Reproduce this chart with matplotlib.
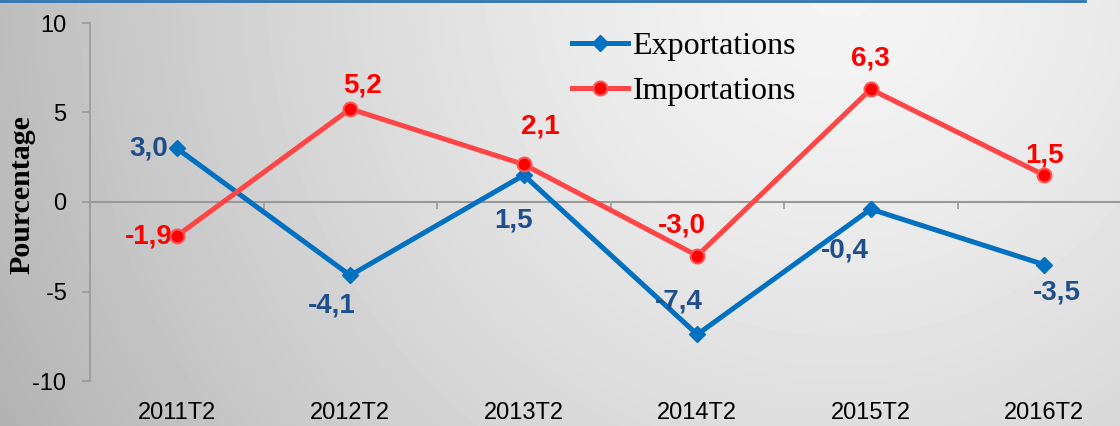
import numpy as np
import matplotlib.pyplot as plt

plt.rcParams['axes.unicode_minus'] = False

# data
periodes = ['2011T2', '2012T2', '2013T2', '2014T2', '2015T2', '2016T2']
exportations = [3.0, -4.1, 1.5, -7.4, -0.4, -3.5]
importations = [-1.9, 5.2, 2.1, -3.0, 6.3, 1.5]

# label offsets (points) for the data labels
off_exp = [(-20, 0), (-13, -22), (-7, -33), (-13, 24), (-19, -30), (9, -20)]
off_imp = [(-20, 0), (9, 17), (12, 27), (-11, 22), (0, 22), (0, 14)]

sans = ['Liberation Sans', 'DejaVu Sans']

W, H = 1120, 426
fig = plt.figure(figsize=(W / 100, H / 100), dpi=100)

# radial gradient background
bg = fig.add_axes([0, 0, 1, 1], zorder=-10)
yy, xx = np.mgrid[0:H, 0:W]
d = np.sqrt((xx - 840.0) ** 2 + (yy + 20.0) ** 2)
v = 0.96 - 0.24 * (d / 900.0) ** 1.4
bg.imshow(np.clip(v, 0, 1), cmap='gray', vmin=0, vmax=1, aspect='auto',
          extent=[0, W, H, 0])
bg.plot([0, 1085], [1, 1], color='#2E75B6', lw=2)
bg.set_xlim(0, W)
bg.set_ylim(H, 0)
bg.axis('off')

ax = fig.add_axes([90 / W, 45 / H, 1041 / W, 358 / H])
ax.patch.set_alpha(0)
x = np.arange(len(periodes))

ax.plot(x, exportations, color='#0070C0', lw=3.6, marker='D', ms=8,
        mfc='#0070C0', mec='#0070C0', label='Exportations', zorder=3)
ax.plot(x, importations, color='#FF4545', lw=3.6, marker='o', ms=10,
        mfc='#FF0000', mec='#FF5555', mew=1.5, label='Importations', zorder=4)

for i, val in enumerate(exportations):
    ax.annotate(f'{val:.1f}'.replace('.', ','), (x[i], val), xytext=off_exp[i],
                textcoords='offset points', ha='center', va='center',
                color='#1F4E8C', fontsize=20, fontweight='bold', family=sans)
for i, val in enumerate(importations):
    ax.annotate(f'{val:.1f}'.replace('.', ','), (x[i], val), xytext=off_imp[i],
                textcoords='offset points', ha='center', va='center',
                color='#FF0000', fontsize=20, fontweight='bold', family=sans)

ax.set_xlim(-0.5, len(periodes) - 0.5)
ax.set_ylim(-10, 10)
ax.set_yticks([-10, -5, 0, 5, 10])
ax.tick_params(axis='y', length=6, width=1.2, color='#999999', pad=11,
               labelsize=17)
for t in ax.get_yticklabels():
    t.set_family(sans)

ax.spines['top'].set_visible(False)
ax.spines['right'].set_visible(False)
ax.spines['left'].set_color('#999999')
ax.spines['left'].set_linewidth(1.2)
ax.spines['bottom'].set_position(('data', 0))
ax.spines['bottom'].set_color('#999999')
ax.spines['bottom'].set_linewidth(1.5)
ax.set_xticks(x)
ax.set_xticklabels([])
ax.tick_params(axis='x', which='major', length=0)
ax.set_xticks(np.arange(len(periodes) + 1) - 0.5, minor=True)
ax.tick_params(axis='x', which='minor', length=5, width=1.2, color='#999999')

for i, p in enumerate(periodes):
    ax.text(x[i], -0.089, p, transform=ax.get_xaxis_transform(), ha='center',
            va='center', fontsize=17, family=sans)

fig.text(22 / W, 1 - 195 / H, 'Pourcentage', rotation=90, ha='center',
         va='center', fontsize=21.5, fontweight='bold', family='Liberation Serif')

fig.legend(loc='upper left', bbox_to_anchor=(543 / W, 1 - 3 / H),
           frameon=False, handlelength=1.75, handletextpad=0.15,
           labelspacing=0.5, prop={'family': 'Liberation Serif', 'size': 23})

fig.savefig('out.png', dpi=100)
